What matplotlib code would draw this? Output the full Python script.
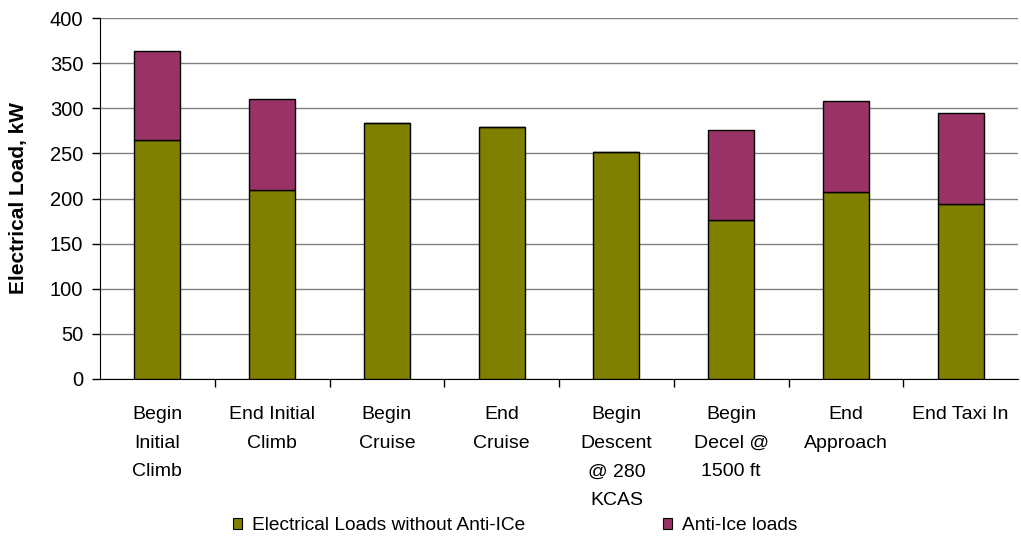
import matplotlib
matplotlib.use("Agg")
import matplotlib.pyplot as plt
from matplotlib.patches import Rectangle
import numpy as np

categories = ["Begin\nInitial\nClimb", "End Initial\nClimb", "Begin\nCruise", "End\nCruise",
              "Begin\nDescent\n@ 280\nKCAS", "Begin\nDecel @\n1500 ft", "End\nApproach", "End Taxi In"]
base_loads = [264.5, 209.5, 283.3, 279.6, 251.5, 175.8, 207.5, 194.3]
anti_ice = [99.0, 100.5, 0, 0, 0, 100.5, 101.0, 100.5]
series_names = ["Electrical Loads without Anti-ICe", "Anti-Ice loads"]
yticks = [0, 50, 100, 150, 200, 250, 300, 350, 400]

plt.rcParams['font.family'] = ['Liberation Sans', 'DejaVu Sans']

green = "#808000"
purple = "#993366"

fig = plt.figure(figsize=(10.21, 5.38), dpi=100)
ax = fig.add_axes([100/1021, (538-379)/538, 918/1021, 361/538])

x = np.arange(len(categories))
ax.bar(x, base_loads, width=0.4, color=green, edgecolor="black", linewidth=1, zorder=3)
ax.bar(x, anti_ice, width=0.4, bottom=base_loads, color=purple, edgecolor="black", linewidth=1, zorder=3)

ax.set_xlim(-0.5, len(categories) - 0.5)
ax.set_ylim(0, 400)
ax.set_yticks(yticks)
ax.set_yticklabels([str(v) for v in yticks], fontsize=14.5)
ax.yaxis.grid(True, color="#808080", linewidth=1, zorder=0)
ax.set_axisbelow(True)

ax.set_xticks(np.arange(0.5, len(categories) - 0.5, 1.0))
ax.set_xticklabels([])
ax.tick_params(axis="x", direction="out", length=6, color="black", width=1)
ax.tick_params(axis="y", direction="out", length=6, color="black", width=1, pad=6)
for i, lab in enumerate(categories):
    ax.text(i, -30, lab, ha="center", va="top", fontsize=14,
            linespacing=1.9, transform=ax.transData, clip_on=False)

for s in ["top", "right"]:
    ax.spines[s].set_visible(False)

ax.set_ylabel("Electrical Load, kW", fontsize=15, fontweight="bold")
ax.yaxis.set_label_coords((28 - 100) / 918, 0.5)

handles = [Rectangle((0, 0), 1, 1, facecolor=green, edgecolor="black", linewidth=0.8),
           Rectangle((0, 0), 1, 1, facecolor=purple, edgecolor="black", linewidth=0.8)]
for h, name, xpos in zip(handles, series_names, [233, 663]):
    fig.legend([h], [name], loc="center left", bbox_to_anchor=(xpos/1021, 1 - 526/538),
               frameon=False, handlelength=0.45, handleheight=0.5, handletextpad=0.55,
               borderaxespad=0, borderpad=0, prop={'size': 13.8})

fig.savefig("out.png", dpi=100)
